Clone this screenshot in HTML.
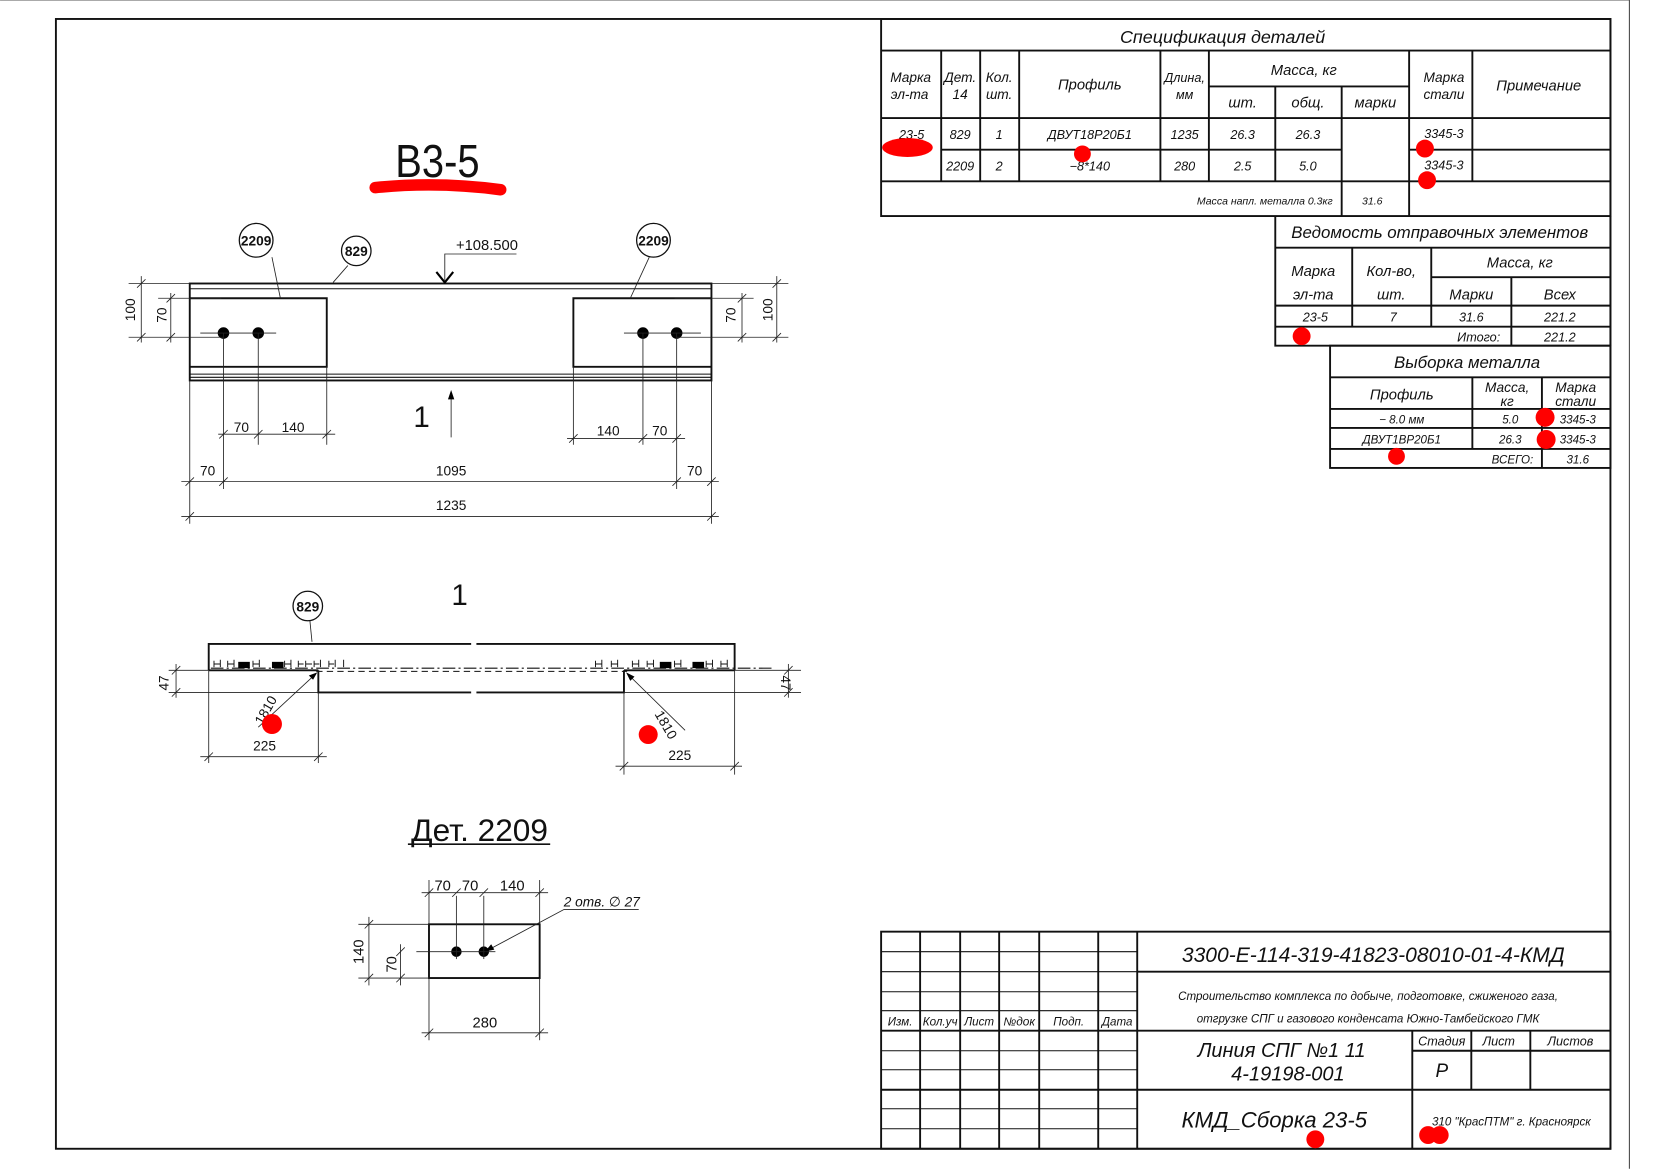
<!DOCTYPE html>
<html><head><meta charset="utf-8">
<style>
html,body{margin:0;padding:0;background:#fff;}
svg{display:block;}
text{font-family:"Liberation Sans","DejaVu Sans",sans-serif;fill:#111;}
.i{font-style:italic;}
.t{stroke:#111;stroke-width:1;fill:none;}
.b{stroke:#111;stroke-width:1.8;fill:none;}
.th{stroke:#222;stroke-width:0.8;fill:none;}
</style></head><body>
<svg width="1654" height="1169" viewBox="0 0 1569.3 1109.2" xmlns="http://www.w3.org/2000/svg">
<rect x="0" y="0" width="1569.3" height="1109.2" fill="#fff"/>
<line x1="0" y1="0.5" x2="1546" y2="0.5" stroke="#aaa" stroke-width="1"/>
<line x1="1546" y1="0" x2="1546" y2="1109" stroke="#444" stroke-width="1"/>
<rect x="53" y="18" width="1475" height="1072" class="b"/>

<!-- Spec table -->
<g class="b">
<rect x="836" y="18" width="692" height="187"/>
<line x1="836" y1="48" x2="1528" y2="48"/>
<line x1="836" y1="112" x2="1528" y2="112"/>
<line x1="836" y1="172" x2="1528" y2="172"/>
<line x1="893" y1="142" x2="1273" y2="142"/>
<line x1="1337" y1="142" x2="1528" y2="142"/>
<line x1="1147" y1="82" x2="1337" y2="82"/>
<line x1="893" y1="48" x2="893" y2="172"/>
<line x1="930" y1="48" x2="930" y2="172"/>
<line x1="967" y1="48" x2="967" y2="172"/>
<line x1="1101" y1="48" x2="1101" y2="172"/>
<line x1="1147" y1="48" x2="1147" y2="172"/>
<line x1="1210" y1="82" x2="1210" y2="172"/>
<line x1="1273" y1="82" x2="1273" y2="205"/>
<line x1="1337" y1="48" x2="1337" y2="205"/>
<line x1="1397" y1="48" x2="1397" y2="172"/>
</g>
<g class="i" font-size="14" text-anchor="middle">
<text x="1160" y="41" font-size="17">Спецификация деталей</text>
<text x="864" y="78" font-size="13">Марка</text><text x="863" y="94" font-size="13">эл-та</text>
<text x="911" y="78" font-size="13">Дет.</text><text x="911" y="94" font-size="13">14</text>
<text x="948" y="78" font-size="13">Кол.</text><text x="948" y="94" font-size="13">шт.</text>
<text x="1034" y="85">Профиль</text>
<text x="1124" y="78" font-size="12">Длина,</text><text x="1124" y="94" font-size="12">мм</text>
<text x="1237" y="71">Масса, кг</text>
<text x="1179" y="102">шт.</text><text x="1241" y="102">общ.</text><text x="1305" y="102">марки</text>
<text x="1370" y="78" font-size="13">Марка</text><text x="1370" y="94" font-size="13">стали</text>
<text x="1460" y="86">Примечание</text>
<g font-size="12">
<text x="865" y="132">23-5</text><text x="911" y="132">829</text><text x="948" y="132">1</text>
<text x="1034" y="132">ДВУТ18Р20Б1</text><text x="1124" y="132">1235</text>
<text x="1179" y="132">26.3</text><text x="1241" y="132">26.3</text><text x="1370" y="131">3345-3</text>
<text x="911" y="162">2209</text><text x="948" y="162">2</text>
<text x="1034" y="162">−8*140</text><text x="1124" y="162">280</text>
<text x="1179" y="162">2.5</text><text x="1241" y="162">5.0</text><text x="1370" y="161">3345-3</text>
<text x="1200" y="194" font-size="10">Масса напл. металла 0.3кг</text>
<text x="1302" y="194" font-size="10">31.6</text>
</g>
</g>

<!-- Ведомость -->
<g class="b">
<polyline points="1210,205 1210,328 1528,328"/>
<line x1="1210" y1="235" x2="1528" y2="235"/>
<line x1="1358" y1="263" x2="1528" y2="263"/>
<line x1="1210" y1="290" x2="1528" y2="290"/>
<line x1="1210" y1="310" x2="1528" y2="310"/>
<line x1="1283" y1="235" x2="1283" y2="310"/>
<line x1="1358" y1="235" x2="1358" y2="310"/>
<line x1="1434" y1="263" x2="1434" y2="328"/>
<line x1="1528" y1="205" x2="1528" y2="328"/>
</g>
<g class="i" font-size="14" text-anchor="middle">
<text x="1366" y="226" font-size="16">Ведомость отправочных элементов</text>
<text x="1246" y="262">Марка</text><text x="1246" y="284">эл-та</text>
<text x="1320" y="262">Кол-во,</text><text x="1320" y="284">шт.</text>
<text x="1442" y="254">Масса, кг</text>
<text x="1396" y="284">Марки</text><text x="1480" y="284">Всех</text>
<g font-size="12"><text x="1248" y="305">23-5</text><text x="1322" y="305">7</text>
<text x="1396" y="305">31.6</text><text x="1480" y="305">221.2</text>
<text x="1403" y="324">Итого:</text><text x="1480" y="324">221.2</text></g>
</g>

<!-- Выборка -->
<g class="b">
<rect x="1262" y="328" width="266" height="116"/>
<line x1="1262" y1="358" x2="1528" y2="358"/>
<line x1="1262" y1="388" x2="1528" y2="388"/>
<line x1="1262" y1="406" x2="1528" y2="406"/>
<line x1="1262" y1="426" x2="1528" y2="426"/>
<line x1="1397" y1="358" x2="1397" y2="426"/>
<line x1="1463" y1="358" x2="1463" y2="444"/>
</g>
<g class="i" font-size="14" text-anchor="middle">
<text x="1392" y="349" font-size="16">Выборка металла</text>
<text x="1330" y="379">Профиль</text>
<text x="1430" y="372" font-size="13">Масса,</text><text x="1430" y="385" font-size="13">кг</text>
<text x="1495" y="372" font-size="13">Марка</text><text x="1495" y="385" font-size="13">стали</text>
<g font-size="11"><text x="1330" y="402">− 8.0 мм</text><text x="1433" y="402">5.0</text><text x="1497" y="402">3345-3</text>
<text x="1330" y="421">ДВУТ1ВР20Б1</text><text x="1433" y="421">26.3</text><text x="1497" y="421">3345-3</text>
<text x="1435" y="440">ВСЕГО:</text><text x="1497" y="440">31.6</text></g>
</g>

<!-- Title block -->
<g class="b">
<rect x="836" y="884" width="692" height="206"/>
<line x1="1079" y1="884" x2="1079" y2="1090"/>
<line x1="1079" y1="922" x2="1528" y2="922"/>
<line x1="836" y1="978" x2="1528" y2="978"/>
<line x1="836" y1="1034" x2="1528" y2="1034"/>
<line x1="1340" y1="978" x2="1340" y2="1090"/>
<line x1="1340" y1="997" x2="1528" y2="997"/>
<line x1="1396" y1="978" x2="1396" y2="1034"/>
<line x1="1452" y1="978" x2="1452" y2="1034"/>
<line x1="873" y1="884" x2="873" y2="1090"/>
<line x1="911" y1="884" x2="911" y2="1090"/>
<line x1="948" y1="884" x2="948" y2="1090"/>
<line x1="986" y1="884" x2="986" y2="1090"/>
<line x1="1042" y1="884" x2="1042" y2="1090"/>
</g>
<g class="t" stroke-width="1.3">
<line x1="836" y1="903" x2="1079" y2="903"/>
<line x1="836" y1="922" x2="1079" y2="922"/>
<line x1="836" y1="941" x2="1079" y2="941"/>
<line x1="836" y1="959" x2="1079" y2="959"/>
<line x1="836" y1="997" x2="1079" y2="997"/>
<line x1="836" y1="1015" x2="1079" y2="1015"/>
<line x1="836" y1="1052" x2="1079" y2="1052"/>
<line x1="836" y1="1071" x2="1079" y2="1071"/>
</g>
<g class="i" text-anchor="middle">
<g font-size="11"><text x="854" y="973">Изм.</text><text x="892" y="973" textLength="33" lengthAdjust="spacingAndGlyphs">Кол.уч</text><text x="929" y="973">Лист</text>
<text x="967" y="973" textLength="30" lengthAdjust="spacingAndGlyphs">№док</text><text x="1014" y="973">Подп.</text><text x="1060" y="973">Дата</text></g>
<text x="1303" y="913" font-size="20">3300-E-114-319-41823-08010-01-4-КМД</text>
<text x="1298" y="949" font-size="11">Строительство комплекса по добыче, подготовке, сжиженого газа,</text>
<text x="1298" y="970" font-size="11">отгрузке СПГ и газового конденсата Южно-Тамбейского ГМК</text>
<text x="1216" y="1003" font-size="19">Линия СПГ №1 11</text>
<text x="1222" y="1025" font-size="19">4-19198-001</text>
<text x="1368" y="992" font-size="12">Стадия</text><text x="1422" y="992" font-size="12">Лист</text><text x="1490" y="992" font-size="12">Листов</text>
<text x="1368" y="1022" font-size="18">Р</text>
<text x="1209" y="1070" font-size="21">КМД_Сборка 23-5</text>
<text x="1434" y="1068" font-size="11">310 "КрасПТМ" г. Красноярск</text>
</g>

<!-- B3-5 -->
<text x="415" y="168" font-size="44" text-anchor="middle" textLength="80" lengthAdjust="spacingAndGlyphs">В3-5</text>
<path d="M356,178 Q415,172 475,180" stroke="#f00" stroke-width="11" fill="none" stroke-linecap="round"/>

<!-- Main view -->
<g class="b" stroke-width="1.5">
<rect x="180" y="269" width="495" height="92"/>
<line x1="180" y1="274" x2="675" y2="274" stroke-width="1"/>
<line x1="180" y1="355" x2="675" y2="355" stroke-width="1"/>
<line x1="180" y1="358" x2="675" y2="358" stroke-width="1"/>
<polyline points="180,283 310,283 310,348 180,348"/>
<polyline points="675,283 544,283 544,348 675,348"/>
</g>
<g fill="#000"><circle cx="212" cy="316" r="5.5"/><circle cx="245" cy="316" r="5.5"/><circle cx="610" cy="316" r="5.5"/><circle cx="642" cy="316" r="5.5"/></g>
<g class="th">
<line x1="190" y1="316" x2="262" y2="316"/><line x1="592" y1="316" x2="665" y2="316"/>
<line x1="122" y1="269" x2="180" y2="269"/><line x1="122" y1="320" x2="212" y2="320"/>
<line x1="150" y1="283" x2="210" y2="283"/>
<line x1="134" y1="262" x2="134" y2="325"/><line x1="162" y1="278" x2="162" y2="325"/>
<line x1="675" y1="269" x2="748" y2="269"/><line x1="642" y1="320" x2="748" y2="320"/>
<line x1="640" y1="283" x2="715" y2="283"/>
<line x1="737" y1="262" x2="737" y2="325"/><line x1="704" y1="278" x2="704" y2="325"/>
<line x1="212" y1="316" x2="212" y2="464"/><line x1="245" y1="316" x2="245" y2="422"/>
<line x1="310" y1="348" x2="310" y2="422"/><line x1="180" y1="361" x2="180" y2="497"/>
<line x1="675" y1="361" x2="675" y2="497"/><line x1="642" y1="316" x2="642" y2="464"/>
<line x1="610" y1="316" x2="610" y2="422"/><line x1="544" y1="348" x2="544" y2="422"/>
<line x1="207" y1="412" x2="318" y2="412"/><line x1="538" y1="416" x2="650" y2="416"/>
<line x1="172" y1="457" x2="682" y2="457"/><line x1="172" y1="490" x2="682" y2="490"/>
<path d="M130,273 l8,-8 M130,324 l8,-8 M158,287 l8,-8 M158,324 l8,-8 M733,273 l8,-8 M733,324 l8,-8 M700,287 l8,-8 M700,324 l8,-8
M208,416 l8,-8 M241,416 l8,-8 M306,416 l8,-8 M540,420 l8,-8 M606,420 l8,-8 M638,420 l8,-8
M176,461 l8,-8 M208,461 l8,-8 M638,461 l8,-8 M671,461 l8,-8 M176,494 l8,-8 M671,494 l8,-8"/>
<line x1="258" y1="244" x2="266" y2="283"/><line x1="330" y1="252" x2="316" y2="268"/>
<line x1="616" y1="244" x2="598" y2="283"/>
<polyline points="490,241 422,241 422,266"/>
<line x1="428" y1="415" x2="428" y2="372"/>
</g>
<path d="M414,258 L422,268 L430,258" stroke="#000" stroke-width="2" fill="none"/>
<path d="M428,370 l-3,9 h6 z" fill="#000"/>
<g fill="#fff" stroke="#111" stroke-width="1.2"><circle cx="243" cy="228" r="16"/><circle cx="338" cy="238" r="14"/><circle cx="620" cy="228" r="16"/></g>
<g font-size="13" font-weight="bold" text-anchor="middle"><text x="243" y="233">2209</text><text x="338" y="243">829</text><text x="620" y="233">2209</text></g>
<g font-size="13" text-anchor="middle" fill="#333">
<text x="462" y="237" font-size="14">+108.500</text>
<text x="128" y="294" transform="rotate(-90 128 294)">100</text>
<text x="158" y="299" transform="rotate(-90 158 299)">70</text>
<text x="698" y="299" transform="rotate(-90 698 299)">70</text>
<text x="733" y="294" transform="rotate(-90 733 294)">100</text>
<text x="229" y="410">70</text><text x="278" y="410">140</text>
<text x="577" y="413">140</text><text x="626" y="413">70</text>
<text x="197" y="451">70</text><text x="428" y="451">1095</text><text x="659" y="451">70</text>
<text x="428" y="484">1235</text>
</g>
<text x="400" y="405" font-size="28" text-anchor="middle">1</text>

<!-- Section 1 -->
<text x="436" y="574" font-size="28" text-anchor="middle">1</text>
<g class="b" stroke-width="1.5">
<polyline points="198,636 198,611 447,611"/><polyline points="452,611 697,611 697,636"/>
<line x1="198" y1="636" x2="302" y2="636"/><line x1="592" y1="636" x2="697" y2="636"/>
<polyline points="302,636 302,657 447,657"/><polyline points="452,657 592,657 592,636"/>
</g>
<line x1="200" y1="634" x2="735" y2="634" stroke="#111" stroke-width="1" stroke-dasharray="12,3,2,3"/>
<line x1="300" y1="637" x2="595" y2="637" stroke="#111" stroke-width="1" stroke-dasharray="6,4"/>
<g stroke="#111" stroke-width="0.9" fill="none">
<path d="M203,627 v6 M203,630 h6 M209,626 v7 M216,627 v6 M216,630 h6 M222,626 v7 M240,627 v6 M240,630 h6 M246,626 v7 M270,627 v6 M270,630 h6 M276,626 v7 M283,627 v6 M283,630 h5 M290,627 v6 M290,630 h6 M298,627 v6 M298,630 h5 M304,626 v7 M312,627 v6 M312,630 h5 M318,626 v7 M326,626 v7"/>
<path d="M565,627 v6 M565,630 h6 M571,626 v7 M580,627 v6 M580,630 h6 M586,626 v7 M600,627 v6 M600,630 h6 M606,626 v7 M614,627 v6 M614,630 h6 M620,626 v7 M640,627 v6 M640,630 h6 M646,626 v7 M670,627 v6 M670,630 h6 M676,626 v7 M684,627 v6 M684,630 h6 M690,626 v7"/>
</g>
<g fill="#000"><rect x="226" y="628" width="11" height="6"/><rect x="258" y="628" width="11" height="6"/><rect x="626" y="628" width="11" height="6"/><rect x="657" y="628" width="11" height="6"/></g>
<g class="th">
<line x1="160" y1="636" x2="198" y2="636"/><line x1="160" y1="657" x2="302" y2="657"/>
<line x1="697" y1="636" x2="760" y2="636"/><line x1="592" y1="657" x2="760" y2="657"/>
<line x1="167" y1="630" x2="167" y2="662"/><line x1="748" y1="630" x2="748" y2="662"/>
<line x1="198" y1="636" x2="198" y2="724"/><line x1="302" y1="657" x2="302" y2="724"/>
<line x1="592" y1="657" x2="592" y2="735"/><line x1="697" y1="636" x2="697" y2="735"/>
<line x1="190" y1="718" x2="310" y2="718"/><line x1="584" y1="727" x2="704" y2="727"/>
<path d="M163,640 l8,-8 M163,661 l8,-8 M744,640 l8,-8 M744,661 l8,-8 M194,722 l8,-8 M298,722 l8,-8 M588,731 l8,-8 M693,731 l8,-8"/>
<line x1="245" y1="690" x2="300" y2="639"/><line x1="650" y1="693" x2="595" y2="639"/>
<line x1="294" y1="589" x2="296" y2="609"/>
</g>
<path d="M301,638 l-8,3 l4,4 z M594,638 l4,8 l4,-4 z" fill="#000"/>
<circle cx="292" cy="575" r="14" fill="#fff" stroke="#111" stroke-width="1.2"/>
<text x="292" y="580" font-size="13" font-weight="bold" text-anchor="middle">829</text>
<g font-size="13" text-anchor="middle" fill="#333">
<text x="160" y="648" transform="rotate(-90 160 648)">47</text>
<text x="741" y="648" transform="rotate(90 741 648)">47</text>
<text x="251" y="712">225</text><text x="645" y="721">225</text>
<text x="256" y="676" transform="rotate(-60 256 676)">1810</text>
<text x="628" y="690" transform="rotate(60 628 690)">1810</text>
</g>

<!-- Дет. 2209 -->
<text x="455" y="798" font-size="30" text-anchor="middle">Дет.  2209</text>
<line x1="387" y1="801" x2="522" y2="801" stroke="#111" stroke-width="1.5"/>
<rect x="407" y="877" width="105" height="51" class="b" stroke-width="1.4"/>
<g fill="#000"><circle cx="433" cy="903" r="5"/><circle cx="459" cy="903" r="5"/></g>
<g class="th">
<line x1="395" y1="903" x2="470" y2="903"/>
<line x1="407" y1="835" x2="407" y2="877"/><line x1="433" y1="850" x2="433" y2="910"/>
<line x1="459" y1="850" x2="459" y2="910"/><line x1="512" y1="835" x2="512" y2="877"/>
<line x1="400" y1="847" x2="520" y2="847"/>
<line x1="340" y1="877" x2="407" y2="877"/><line x1="340" y1="928" x2="407" y2="928"/>
<line x1="350" y1="870" x2="350" y2="935"/><line x1="380" y1="896" x2="380" y2="935"/>
<line x1="407" y1="928" x2="407" y2="987"/><line x1="512" y1="928" x2="512" y2="987"/>
<line x1="400" y1="980" x2="520" y2="980"/>
<path d="M403,851 l8,-8 M429,851 l8,-8 M455,851 l8,-8 M508,851 l8,-8 M346,881 l8,-8 M346,932 l8,-8 M376,907 l8,-8 M376,932 l8,-8 M403,984 l8,-8 M508,984 l8,-8"/>
<polyline points="606,863 535,863 462,902"/>
</g>
<path d="M460,903 l9,-2 l-3,-5 z" fill="#000"/>
<g font-size="14" text-anchor="middle" fill="#333">
<text x="420" y="845">70</text><text x="446" y="845">70</text><text x="486" y="845">140</text>
<text x="345" y="903" transform="rotate(-90 345 903)">140</text>
<text x="376" y="915" transform="rotate(-90 376 915)">70</text>
<text x="460" y="975">280</text>
<text x="571" y="860" class="i" font-size="13">2 отв. ∅ 27</text>
</g>

<!-- red marks -->
<g fill="#f00">
<ellipse cx="861" cy="140" rx="24" ry="9"/>
<circle cx="1027" cy="146" r="8"/>
<circle cx="1352" cy="141" r="8.5"/><circle cx="1354" cy="171" r="8.5"/>
<circle cx="1235" cy="319" r="8.5"/>
<circle cx="1466" cy="396" r="9"/><circle cx="1467" cy="417" r="9"/>
<circle cx="1325" cy="433" r="8"/>
<circle cx="258" cy="687" r="9.5"/><circle cx="615" cy="697" r="9"/>
<circle cx="1248" cy="1081" r="8.5"/>
<circle cx="1355" cy="1077" r="8.5"/><circle cx="1366" cy="1077" r="8.5"/>
</g>
</svg>
</body></html>
